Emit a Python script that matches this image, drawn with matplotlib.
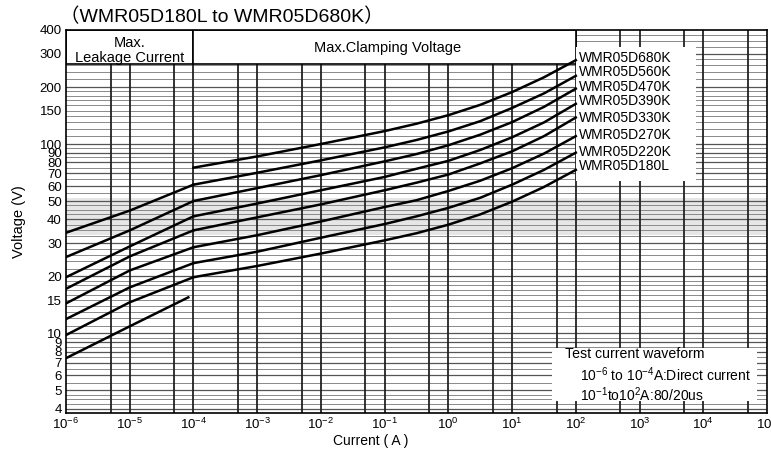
import numpy as np
import matplotlib.pyplot as plt
from matplotlib.patches import Rectangle

plt.rcParams['font.family'] = ['Liberation Sans', 'Noto Sans CJK SC', 'DejaVu Sans']
plt.rcParams['mathtext.fontset'] = 'custom'
plt.rcParams['mathtext.rm'] = 'Liberation Sans'
plt.rcParams['mathtext.it'] = 'Liberation Sans:italic'

# part numbers, top curve first
models = ["WMR05D680K", "WMR05D560K", "WMR05D470K", "WMR05D390K",
          "WMR05D330K", "WMR05D270K", "WMR05D220K", "WMR05D180L"]

# clamping region, current (A)
clamp_i = [1e-4, 1e-3, 1e-2, 1e-1, 10**-0.5, 1e0, 10**0.5, 1e1, 10**1.5, 1e2]
clamp_v = [
    [75, 86, 100, 117, 128, 142, 161, 188, 225, 277],
    [61, 70.5, 82, 96, 105, 116.5, 132, 155, 185, 229],
    [50, 58.5, 68.5, 81, 88.5, 98.5, 112, 130.5, 157, 196],
    [41.5, 48.5, 57, 67, 74, 81.5, 93, 108.5, 130, 163],
    [35, 41, 48, 57, 62.5, 69, 79, 91.5, 110, 138],
    [28.5, 33, 39, 46.5, 50.5, 56.5, 64, 74.5, 89, 110],
    [23.5, 27, 32, 37.8, 41.5, 46, 52, 61, 73, 90],
    [19.8, 22.7, 26.4, 31, 33.8, 37.5, 42.5, 49.6, 59.3, 73],
]

# leakage region
leak_i = [1e-6, 1e-5, 1e-4]
leak_i_last = [1e-6, 1e-5, 8.3e-5]
leak_v = [
    [34, 44.5, 61],
    [25.3, 35, 50],
    [19.8, 28.8, 41.5],
    [17.2, 25.5, 35],
    [14.4, 21.5, 28.5],
    [11.9, 17.5, 23.5],
    [9.8, 14.6, 19.8],
    [7.4, 10.9, 15.5],
]

yticks = [4, 5, 6, 7, 8, 9, 10, 15, 20, 30, 40, 50, 60, 70, 80, 90, 100, 150, 200, 300, 400]
xdecades = list(range(-6, 6))

fig = plt.figure(figsize=(7.71, 4.49), dpi=100)
ax = fig.add_axes([0.0856, 0.0802, 0.9092, 0.853])
ax.set_xscale('log')
ax.set_yscale('log')
ax.set_xlim(1e-6, 1e5)
ax.set_ylim(3.8, 400)

# background grid
ax.axhspan(33, 52, color='#e6e6e6', zorder=0, lw=0)
mant = [1.0, 1.1, 1.2, 1.3, 1.4, 1.5, 1.6, 1.7, 1.8, 1.9, 2.0, 2.2, 2.4, 2.6, 2.8,
        3.0, 3.25, 3.5, 3.75, 4.0, 4.25, 4.5, 4.75, 5.0, 5.5, 6.0, 6.5, 7.0, 7.5,
        8.0, 8.5, 9.0, 9.5]
for d in [1, 10, 100]:
    for m in mant:
        v = m * d
        if 3.8 < v < 400:
            dark = float(m).is_integer()
            ax.axhline(v, color='#555555' if dark else '#8a8a8a',
                       lw=0.9 if dark else 0.7, zorder=1)
for e in xdecades:
    for m in [1, 5]:
        x = m * 10.0**e
        if 1e-6 < x < 1e5:
            ax.axvline(x, color='#222222', lw=1.3, zorder=2)

# boxes
box = dict(facecolor='white', zorder=3)
ax.add_patch(Rectangle((1e-6, 264), 1e-4 - 1e-6, 136, edgecolor='black', lw=1.2, **box))
ax.add_patch(Rectangle((1e-4, 264), 1e2 - 1e-4, 136, edgecolor='black', lw=1.2, **box))
ax.add_patch(Rectangle((1e2, 64), 7.6e3 - 1e2, 261, edgecolor='none', **box))
ax.add_patch(Rectangle((10**1.63, 4.4), 10**4.85 - 10**1.63, 4.0, edgecolor='none', **box))

# curves
for k in range(len(models)):
    ax.plot(clamp_i, clamp_v[k], color='black', lw=1.8, zorder=4)
    li = leak_i_last if k == len(models) - 1 else leak_i
    ax.plot(li, leak_v[k], color='black', lw=1.8, zorder=4)

lab_y = [0.927, 0.890, 0.851, 0.815, 0.770, 0.726, 0.681, 0.645]
for name, y in zip(models, lab_y):
    ax.text(0.732, y, name, transform=ax.transAxes, fontsize=10,
            va='center', ha='left', zorder=5)

ax.text(0.0905, 0.946, "Max.\nLeakage Current", transform=ax.transAxes,
        fontsize=10.5, ha='center', va='center', linespacing=1.05, zorder=5)
ax.text(0.459, 0.954, "Max.Clamping Voltage", transform=ax.transAxes,
        fontsize=10.5, ha='center', va='center', zorder=5)

ax.text(0.712, 0.153, "Test current waveform", transform=ax.transAxes,
        fontsize=10.2, ha='left', va='center', zorder=5)
ax.text(0.733, 0.100, "10$^{-6}$ to 10$^{-4}$A:Direct current", transform=ax.transAxes,
        fontsize=10, ha='left', va='center', zorder=5)
ax.text(0.733, 0.048, "10$^{-1}$to10$^{2}$A:80/20us", transform=ax.transAxes,
        fontsize=10, ha='left', va='center', zorder=5)

ax.set_yticks(yticks)
ax.set_yticklabels([str(t) for t in yticks], fontsize=9.5)
ax.yaxis.set_minor_locator(plt.NullLocator())
ax.set_xticks([10.0**e for e in xdecades])
ax.set_xticklabels(["10$^{%d}$" % e for e in xdecades], fontsize=9.5)
ax.xaxis.set_minor_locator(plt.NullLocator())
ax.tick_params(length=0, pad=3)
for s in ax.spines.values():
    s.set_linewidth(1.2)
    s.set_zorder(6)

ax.set_xlabel("Current ( A )", fontsize=10, labelpad=1)
ax.xaxis.set_label_coords(0.434, -0.055)
ax.set_ylabel("Voltage (V)", fontsize=10.5, labelpad=10)
fig.text(0.078, 0.962, "（WMR05D180L to WMR05D680K）", fontsize=14, ha='left', va='center')

fig.savefig("out.png", dpi=100)
